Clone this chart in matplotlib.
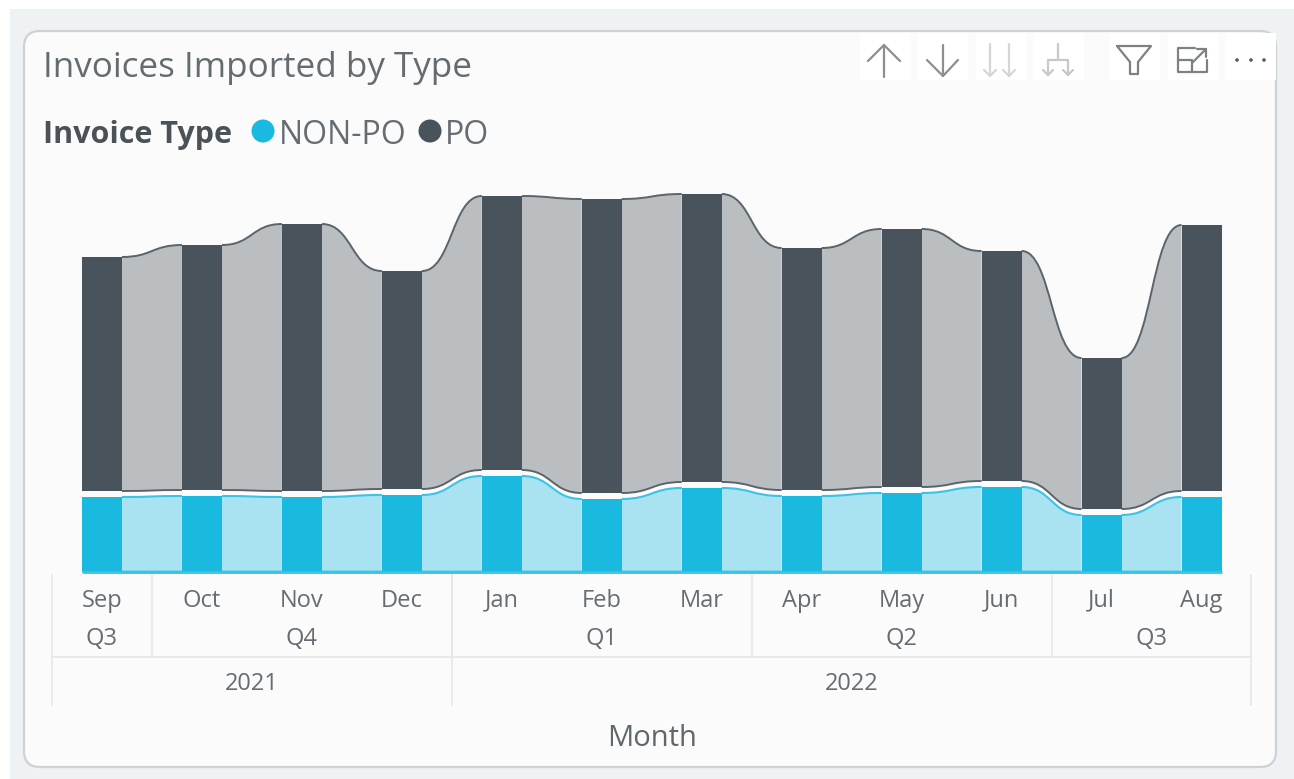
import matplotlib
matplotlib.use('Agg')
import matplotlib.pyplot as plt
from matplotlib.path import Path
from matplotlib.patches import PathPatch, FancyBboxPatch, Rectangle, Circle

plt.rcParams['font.family'] = ['Open Sans', 'DejaVu Sans']

months = ['Sep', 'Oct', 'Nov', 'Dec', 'Jan', 'Feb', 'Mar', 'Apr', 'May', 'Jun', 'Jul', 'Aug']
non_po = [75, 76, 75, 77, 96, 73, 84, 76, 79, 85, 57, 75]
po = [234, 245, 267, 218, 274, 294, 288, 242, 258, 230, 151, 266]
quarters = ['Q3', 'Q4', 'Q1', 'Q2', 'Q3']
quarter_pos = [0, 2, 5, 8, 10.5]
years = ['2021', '2022']
year_pos = [1.5, 7.5]
quarter_breaks = [0.5, 3.5, 6.5, 9.5]
year_breaks = [-0.5, 3.5, 11.5]

GAP = 6
BAR_W = 0.4
NONPO_BAR, NONPO_RIB = '#1ab9e0', '#a9e3f1'
PO_BAR, PO_RIB = '#48535b', '#bbbec1'
TXT = '#666d72'
GRID = '#e6e7e8'

fig = plt.figure(figsize=(12.94, 7.79), dpi=100, facecolor='white')

# page / card / toolbar, in pixel coordinates
bg = fig.add_axes([0, 0, 1, 1], zorder=0)
bg.set_xlim(0, 1294)
bg.set_ylim(779, 0)
bg.axis('off')
bg.add_patch(Rectangle((10, 9), 1284, 770, color='#eff2f4', lw=0))
bg.add_patch(FancyBboxPatch((24, 31), 1252, 736, boxstyle='round,pad=0,rounding_size=16',
                            fc='#fbfbfc', ec='#cfd2d5', lw=1.6))
for x0 in [860, 918, 976, 1034, 1110, 1168, 1226]:
    bg.add_patch(Rectangle((x0, 33), 50, 47, color='white', lw=0))


def icon(xs, ys, color='#8b8f92', lw=1.6):
    bg.plot(xs, ys, color=color, lw=lw, solid_capstyle='round', solid_joinstyle='round')


# up, down
icon([884, 884], [45, 77])
icon([868, 884, 900], [61, 45, 61])
icon([943, 943], [45, 76])
icon([927, 943, 958], [60, 76, 60])
# drill all, expand (greyed out)
for x in [990, 1009]:
    icon([x, x], [44, 76], '#d4d6d8')
    icon([x - 6, x, x + 6], [70, 76, 70], '#d4d6d8')
icon([1058, 1058], [44, 60], '#c6c8ca')
icon([1048, 1048, 1068, 1068], [75, 60, 60, 75], '#c6c8ca')
icon([1043, 1048, 1053], [70, 75, 70], '#c6c8ca')
icon([1063, 1068, 1073], [70, 75, 70], '#c6c8ca')
# filter
icon([1117, 1151, 1138, 1138, 1130, 1130, 1117], [46, 46, 62, 74, 74, 62, 46], '#7d8184')
# focus
icon([1195, 1178, 1178, 1207, 1207], [48, 48, 72, 72, 60], '#7d8184')
icon([1178, 1192, 1192], [60, 60, 72], '#7d8184')
icon([1192, 1206], [63, 49], '#7d8184')
icon([1197, 1206, 1206], [49, 49, 57], '#7d8184')
# more
for x in [1237, 1251, 1264]:
    bg.add_patch(Circle((x, 60), 1.8, color='#55595c', lw=0))

bg.text(43, 68, 'Invoices Imported by Type', fontsize=25.2, color='#646c70', va='center', ha='left')
bg.text(43, 135, 'Invoice Type', fontsize=22, fontweight='bold', color='#4a5257', va='center', ha='left')
bg.add_patch(Circle((263, 131), 11.5, color=NONPO_BAR, lw=0))
bg.text(279, 135, 'NON-PO', fontsize=23, color=TXT, va='center', ha='left')
bg.add_patch(Circle((430, 131), 11.5, color=PO_BAR, lw=0))
bg.text(445, 135, 'PO', fontsize=23, color=TXT, va='center', ha='left')

# chart axes: 1 y unit is about 1 px
ax = fig.add_axes([82 / 1294, (779 - 572) / 779, 1139.5 / 1294, 392 / 779], zorder=1)
ax.patch.set_visible(False)
ax.set_xlim(-BAR_W / 2, 11 + BAR_W / 2)
ax.set_ylim(0, 392)
ax.set_yticks([])
for s in ax.spines.values():
    s.set_visible(False)


def ribbon(i, lo, hi, fill, edge, lw_lo, lw_hi):
    # S-curved band from bar i to bar i+1
    x0, x1 = i + BAR_W / 2, i + 1 - BAR_W / 2
    xm = (x0 + x1) / 2
    verts = [(x0, lo[i]), (xm, lo[i]), (xm, lo[i + 1]), (x1, lo[i + 1]),
             (x1, hi[i + 1]), (xm, hi[i + 1]), (xm, hi[i]), (x0, hi[i]), (x0, lo[i])]
    codes = [Path.MOVETO, Path.CURVE4, Path.CURVE4, Path.CURVE4, Path.LINETO,
             Path.CURVE4, Path.CURVE4, Path.CURVE4, Path.CLOSEPOLY]
    ax.add_patch(PathPatch(Path(verts, codes), fc=fill, ec='none', zorder=1))
    top = [(x0, hi[i]), (xm, hi[i]), (xm, hi[i + 1]), (x1, hi[i + 1])]
    bot = [(x0, lo[i]), (xm, lo[i]), (xm, lo[i + 1]), (x1, lo[i + 1])]
    c4 = [Path.MOVETO, Path.CURVE4, Path.CURVE4, Path.CURVE4]
    ax.add_patch(PathPatch(Path(top, c4), fc='none', ec=edge, lw=lw_hi, zorder=2, clip_on=False))
    ax.add_patch(PathPatch(Path(bot, c4), fc='none', ec=edge, lw=lw_lo, zorder=2, clip_on=False))


n = len(months)
zeros = [0] * n
po_bottom = [v + GAP for v in non_po]
po_top = [b + v for b, v in zip(po_bottom, po)]

for i in range(n - 1):
    ribbon(i, zeros, non_po, NONPO_RIB, '#3cc3e4', 2.0, 1.5)
    ribbon(i, po_bottom, po_top, PO_RIB, '#5a646b', 1.4, 1.4)

xs = list(range(n))
ax.bar(xs, non_po, width=BAR_W, color=NONPO_BAR, zorder=3)
ax.bar(xs, po, bottom=po_bottom, width=BAR_W, color=PO_BAR, zorder=3)
ax.plot([xs[0] - BAR_W / 2, xs[-1] + BAR_W / 2], [0, 0], color='#3cc3e4', lw=2.0, zorder=4,
        clip_on=False, solid_capstyle='butt')

# hierarchical axis
ax.set_xticks(xs)
ax.set_xticklabels(months, fontsize=17, color=TXT)
ax.tick_params(axis='x', length=0, pad=12)
for name, p in zip(quarters, quarter_pos):
    ax.text(p, -67, name, fontsize=17, color=TXT, ha='center', va='center', clip_on=False)
for name, p in zip(years, year_pos):
    ax.text(p, -112, name, fontsize=17, color=TXT, ha='center', va='center', clip_on=False)
for x in quarter_breaks:
    ax.plot([x, x], [-3, -85], color=GRID, lw=1.2, clip_on=False)
for x in year_breaks:
    ax.plot([x, x], [-3, -133], color=GRID, lw=1.2, clip_on=False)
ax.plot([year_breaks[0], year_breaks[-1]], [-85, -85], color=GRID, lw=1.2, clip_on=False)
ax.set_xlabel('Month', fontsize=21, color='#5f676b', labelpad=80)

fig.savefig('out.png', dpi=100)
